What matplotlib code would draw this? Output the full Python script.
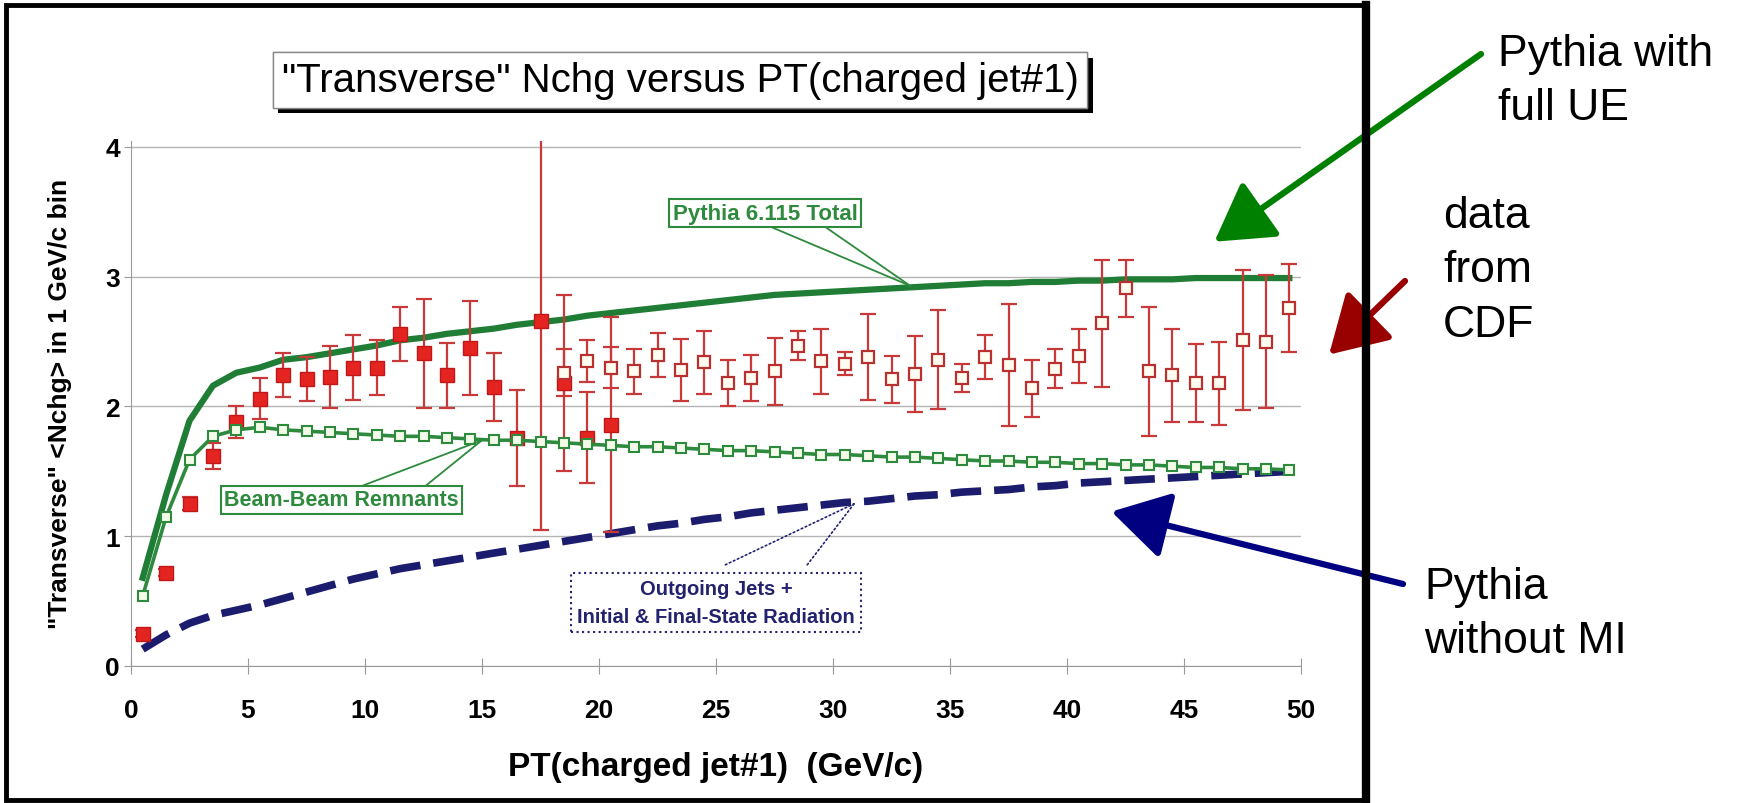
"""Transverse charged multiplicity vs leading charged jet PT (CDF data vs Pythia)."""

import matplotlib

matplotlib.use("Agg")
import matplotlib.pyplot as plt
import matplotlib.patheffects as pe
from matplotlib.lines import Line2D
from matplotlib.patches import Rectangle

plt.rcParams["font.family"] = ["Liberation Sans", "DejaVu Sans"]

# bin centres of the 1 GeV/c PT bins
pt_bins = [0.5, 1.5, 2.5, 3.5, 4.5, 5.5, 6.5, 7.5, 8.5, 9.5,
           10.5, 11.5, 12.5, 13.5, 14.5, 15.5, 16.5, 17.5, 18.5, 19.5,
           20.5, 21.5, 22.5, 23.5, 24.5, 25.5, 26.5, 27.5, 28.5, 29.5,
           30.5, 31.5, 32.5, 33.5, 34.5, 35.5, 36.5, 37.5, 38.5, 39.5,
           40.5, 41.5, 42.5, 43.5, 44.5, 45.5, 46.5, 47.5, 48.5, 49.5]

# Pythia 6.115 total
pythia_total = [0.68, 1.32, 1.89, 2.16, 2.26, 2.30, 2.36, 2.38, 2.41, 2.44,
                2.47, 2.51, 2.53, 2.56, 2.58, 2.60, 2.63, 2.65, 2.67, 2.70,
                2.72, 2.74, 2.76, 2.78, 2.80, 2.82, 2.84, 2.86, 2.87, 2.88,
                2.89, 2.90, 2.91, 2.92, 2.93, 2.94, 2.95, 2.95, 2.96, 2.96,
                2.97, 2.97, 2.98, 2.98, 2.98, 2.99, 2.99, 2.99, 2.99, 2.99]

# beam-beam remnants component
beam_remnants = [0.54, 1.15, 1.59, 1.77, 1.82, 1.84, 1.82, 1.81, 1.80, 1.79,
                 1.78, 1.77, 1.77, 1.76, 1.75, 1.74, 1.74, 1.73, 1.72, 1.71,
                 1.70, 1.69, 1.69, 1.68, 1.67, 1.66, 1.66, 1.65, 1.64, 1.63,
                 1.63, 1.62, 1.61, 1.61, 1.60, 1.59, 1.58, 1.58, 1.57, 1.57,
                 1.56, 1.56, 1.55, 1.55, 1.54, 1.53, 1.53, 1.52, 1.52, 1.51]

# outgoing jets + ISR/FSR component
outgoing_jets = [0.13, 0.24, 0.33, 0.39, 0.43, 0.47, 0.52, 0.57, 0.62, 0.67,
                 0.71, 0.75, 0.78, 0.81, 0.84, 0.87, 0.90, 0.93, 0.96, 0.99,
                 1.02, 1.05, 1.08, 1.10, 1.13, 1.15, 1.18, 1.20, 1.22, 1.24,
                 1.26, 1.27, 1.29, 1.31, 1.32, 1.34, 1.35, 1.36, 1.38, 1.39,
                 1.41, 1.42, 1.43, 1.44, 1.45, 1.46, 1.47, 1.48, 1.49, 1.50]

# CDF data, min-bias sample (filled squares)
mb_pt = pt_bins[:21]
mb_nchg = [0.25, 0.72, 1.25, 1.62, 1.88, 2.06, 2.24, 2.21, 2.23, 2.30,
           2.30, 2.56, 2.41, 2.24, 2.45, 2.15, 1.76, 2.66, 2.18, 1.76, 1.86]
mb_err = [0.03, 0.03, 0.05, 0.10, 0.12, 0.16, 0.17, 0.17, 0.24, 0.25,
          0.21, 0.21, 0.42, 0.25, 0.36, 0.26, 0.37, 1.61, 0.68, 0.35, 0.83]

# CDF data, jet-trigger sample (open squares)
jet_pt = pt_bins[18:]
jet_nchg = [2.26, 2.35, 2.30, 2.27, 2.40, 2.28, 2.34, 2.18, 2.22, 2.27,
            2.47, 2.35, 2.33, 2.38, 2.21, 2.25, 2.36, 2.22, 2.38, 2.32,
            2.14, 2.29, 2.39, 2.64, 2.91, 2.27, 2.24, 2.18, 2.18, 2.51,
            2.50, 2.76]
jet_err = [0.18, 0.16, 0.16, 0.17, 0.17, 0.24, 0.24, 0.18, 0.18, 0.26,
           0.11, 0.25, 0.09, 0.33, 0.18, 0.29, 0.38, 0.11, 0.17, 0.47,
           0.22, 0.15, 0.21, 0.49, 0.22, 0.50, 0.36, 0.30, 0.32, 0.54,
           0.51, 0.34]

x_ticks = [0, 5, 10, 15, 20, 25, 30, 35, 40, 45, 50]
y_ticks = [0, 1, 2, 3, 4]

W, H = 1740, 804
GREEN = "#1f7d35"
BBR_GREEN = "#2e8b3e"
NAVY = "#1c1c6e"
DATA_RED = "#e32420"
BAR_RED = "#c83a3a"


def fig_px(x, y):
    """Figure fraction from pixel position measured from the top-left corner."""
    return x / W, 1 - y / H


fig = plt.figure(figsize=(W / 100, H / 100), dpi=100)
ax = fig.add_axes([131 / W, 1 - 667 / H, 1170 / W, 525.5 / H])

ax.plot(pt_bins, outgoing_jets, color=NAVY, lw=5.5, ls=(0, (4.0, 1.7)),
        dash_capstyle="butt", zorder=2)
ax.plot(pt_bins, pythia_total, color=GREEN, lw=4.5, zorder=3)
ax.errorbar(mb_pt, mb_nchg, yerr=mb_err, fmt="s", ms=10.5, mfc=DATA_RED,
            mec="#c01818", ecolor=BAR_RED, elinewidth=1.6, capsize=6,
            capthick=1.6, zorder=4)
ax.errorbar(jet_pt, jet_nchg, yerr=jet_err, fmt="s", ms=9, mfc="#fffdf0",
            mec="#b83030", mew=1.6, ecolor=BAR_RED, elinewidth=1.6,
            capsize=6, capthick=1.6, zorder=4)
ax.plot(pt_bins, beam_remnants, "-s", color=BBR_GREEN, lw=2.6, ms=7,
        mfc="#f3fbe8", mec=BBR_GREEN, mew=1.5, zorder=5)

ax.set_xlim(0, 50)
ax.set_ylim(0, 4.05)
ax.set_xticks(x_ticks)
ax.set_yticks(y_ticks)
ax.yaxis.grid(True, color="#b4b4b4", lw=1.0)
ax.set_axisbelow(True)
for side in ("top", "right"):
    ax.spines[side].set_visible(False)
for side in ("left", "bottom"):
    ax.spines[side].set_color("#9a9a9a")
ax.tick_params(axis="x", direction="inout", length=12, color="#9a9a9a",
               labelsize=19, pad=17)
ax.tick_params(axis="y", direction="out", length=5, color="#9a9a9a",
               labelsize=19, pad=3)
for lbl in ax.get_xticklabels() + ax.get_yticklabels():
    lbl.set_fontweight("bold")

ax.set_xlabel("PT(charged jet#1)  (GeV/c)", fontsize=24, fontweight="bold")
ax.xaxis.set_label_coords(0.5, -0.162)
ax.set_ylabel('"Transverse" <Nchg> in 1 GeV/c bin', fontsize=19,
              fontweight="bold")
ax.yaxis.set_label_coords(-0.05, 0.5)

# callouts inside the plot
ax.text(27.1, 3.49, "Pythia 6.115 Total", ha="center", va="center",
        fontsize=16, fontweight="bold", color=BBR_GREEN, zorder=6,
        bbox=dict(boxstyle="square,pad=0.15", fc="white", ec=BBR_GREEN, lw=1.5))
for x0 in (27.4, 29.7):
    ax.annotate("", xy=(33.3, 2.93), xytext=(x0, 3.38),
                arrowprops=dict(arrowstyle="-", color=BBR_GREEN, lw=1.3,
                                shrinkA=0, shrinkB=0), zorder=6)

ax.text(9.0, 1.28, "Beam-Beam Remnants", ha="center", va="center",
        fontsize=15.5, fontweight="bold", color=BBR_GREEN, zorder=6,
        bbox=dict(boxstyle="square,pad=0.15", fc="white", ec=BBR_GREEN, lw=1.5))
for x0 in (9.9, 12.6):
    ax.annotate("", xy=(15.0, 1.74), xytext=(x0, 1.39),
                arrowprops=dict(arrowstyle="-", color=BBR_GREEN, lw=1.3,
                                shrinkA=0, shrinkB=0), zorder=6)

ax.text(25.0, 0.49, "Outgoing Jets +\nInitial & Final-State Radiation",
        ha="center", va="center", fontsize=14.5, fontweight="bold",
        color="#22226e", linespacing=1.6, zorder=6,
        bbox=dict(boxstyle="square,pad=0.3", fc="white", ec="#22226e",
                  ls=":", lw=1.5))
for x0 in (25.4, 28.9):
    ax.annotate("", xy=(30.9, 1.25), xytext=(x0, 0.78),
                arrowprops=dict(arrowstyle="-", color="#22226e", lw=1.2,
                                ls=":", shrinkA=0, shrinkB=0), zorder=6)

# title box with drop shadow
title = fig.text(*fig_px(680, 81), '"Transverse" Nchg versus PT(charged jet#1)',
                 ha="center", va="center", fontsize=29,
                 bbox=dict(boxstyle="square,pad=0.22", fc="white", ec="#888888",
                           lw=1.0))
title.get_bbox_patch().set_path_effects(
    [pe.withSimplePatchShadow(offset=(4, -4), shadow_rgbFace="black", alpha=1.0),
     pe.Normal()])

# outer frame of the slide picture, heavier on the right
frame = Rectangle(fig_px(6, 801), 1360 / W, 795 / H, transform=fig.transFigure,
                  fill=False, lw=3.5, ec="black")
fig.add_artist(frame)
fig.add_artist(Line2D([1366 / W, 1366 / W], [1 - 801 / H, 1 - 6 / H],
                      transform=fig.transFigure, lw=6, color="black"))

# side annotations with arrows
notes = [
    ("Pythia with\nfull UE", (1498, 34), (46.3, 3.27), (1481, 55), "#008000"),
    ("data\nfrom\nCDF", (1443, 196), (51.2, 2.40), (1405, 282), "#990000"),
    ("Pythia\nwithout MI", (1424, 567), (41.9, 1.19), (1403, 585), "#000080"),
]
for label, text_px, head, tail_px, colour in notes:
    fig.text(*fig_px(*text_px), label, ha="left", va="top", fontsize=32,
             linespacing=1.42)
    ax.annotate("", xy=head, xycoords="data",
                xytext=fig_px(*tail_px), textcoords="figure fraction",
                arrowprops=dict(arrowstyle="-|>,head_length=1.1,head_width=0.65",
                                mutation_scale=32, lw=4.5, color=colour,
                                shrinkA=0, shrinkB=0),
                annotation_clip=False)

fig.savefig("out.png", dpi=100)
